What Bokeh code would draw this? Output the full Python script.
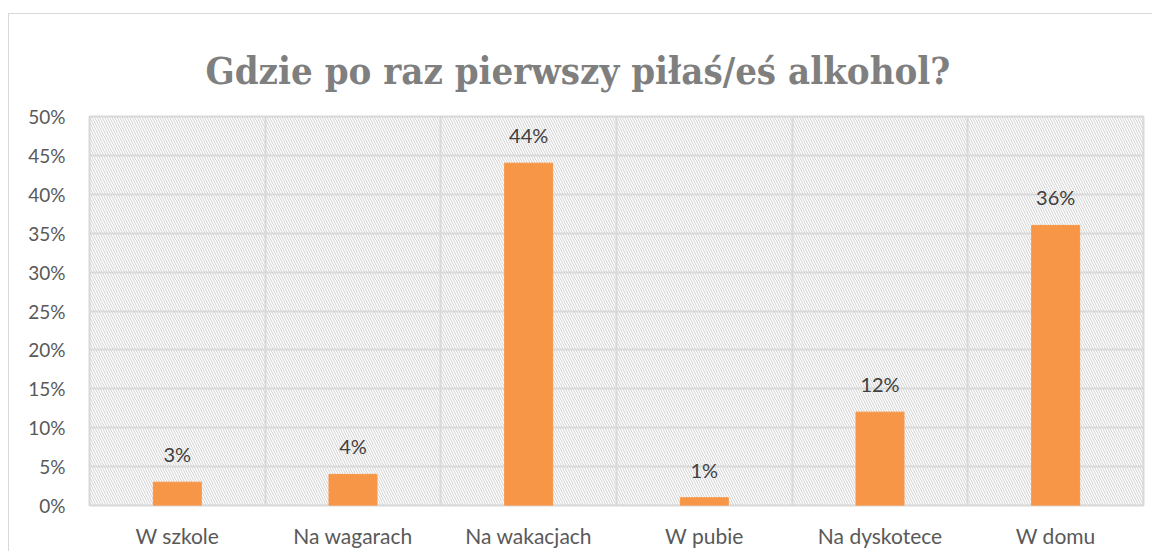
from bokeh.plotting import figure
from bokeh.models import (ColumnDataSource, FixedTicker, LabelSet, PrintfTickFormatter,
                          Range1d, Title)
from bokeh.core.properties import value
from bokeh.embed import file_html
from bokeh.resources import INLINE

categories = ["W szkole", "Na wagarach", "Na wakacjach", "W pubie", "Na dyskotece", "W domu"]
values = [3, 4, 44, 1, 12, 36]
y_ticks = [0, 5, 10, 15, 20, 25, 30, 35, 40, 45, 50]
title_text = "Gdzie po raz pierwszy piłaś/eś alkohol?"

xs = list(range(len(categories)))
src = ColumnDataSource(dict(x=xs, top=values, label=[f"{v}%" for v in values]))

p = figure(width=1144, height=538, output_backend="svg", toolbar_location=None,
           x_range=Range1d(-0.5, len(categories) - 0.5), y_range=Range1d(0, 50),
           min_border_left=81, min_border_right=9, min_border_top=103, min_border_bottom=46)
p.margin = (13, 0, 0, 8)
p.border_fill_color = None
p.styles = {"box-shadow": "inset 1px 1px 0 0 #d9d9d9"}
p.outline_line_color = "#d9d9d9"
p.outline_line_width = 2

t = Title(text=title_text, align="left", vertical_align="top",
          text_font="DejaVu Serif Condensed",
          text_font_size="38px", text_font_style="bold", text_color="#7f7f7f",
          offset=116, standoff=44)
p.add_layout(t, "above")

# hatched plot area
p.quad(left=[-0.5], right=[len(categories) - 0.5], bottom=[0], top=[50],
       fill_color=None, line_color=None, hatch_pattern="\\", hatch_color="#d0d0d0",
       hatch_scale=5, hatch_weight=1, level="image")

p.vbar(x="x", top="top", width=0.273, source=src, color="#F79646")

labels = LabelSet(x="x", y="top", text="label", source=src, text_align="center",
                  y_offset=16, text_font=value("Lato"), text_font_size="20px",
                  text_color="#404040")
p.add_layout(labels)

p.yaxis.ticker = FixedTicker(ticks=y_ticks)
p.yaxis.formatter = PrintfTickFormatter(format="%d%%")
p.yaxis.axis_line_color = None
p.yaxis.major_tick_line_color = None
p.yaxis.minor_tick_line_color = None
p.yaxis.major_label_standoff = 18
p.yaxis.major_label_text_font = "Lato"
p.yaxis.major_label_text_font_size = "19px"
p.yaxis.major_label_text_color = "#595959"

p.xaxis.ticker = FixedTicker(ticks=xs)
p.xaxis.major_label_overrides = {i: c for i, c in enumerate(categories)}
p.xaxis.axis_line_color = None
p.xaxis.major_tick_line_color = None
p.xaxis.minor_tick_line_color = None
p.xaxis.major_label_standoff = 11
p.xaxis.major_label_text_font = "Lato"
p.xaxis.major_label_text_font_size = "21px"
p.xaxis.major_label_text_color = "#595959"

p.ygrid.ticker = FixedTicker(ticks=y_ticks)
p.ygrid.grid_line_color = "#d9d9d9"
p.ygrid.grid_line_width = 2
p.xgrid.ticker = FixedTicker(ticks=[i + 0.5 for i in xs[:-1]])
p.xgrid.grid_line_color = "#d9d9d9"
p.xgrid.grid_line_width = 2

open("out.html", "w").write(file_html(p, INLINE))
